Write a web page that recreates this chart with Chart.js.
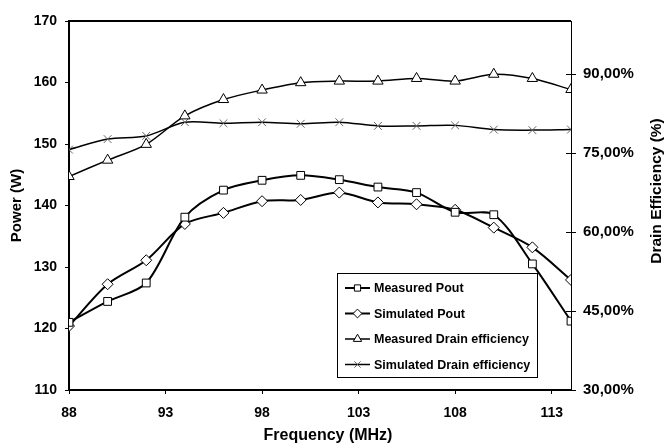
<!DOCTYPE html>
<html>
<head>
<meta charset="utf-8">
<script src="https://cdn.jsdelivr.net/npm/chart.js@4.4.0/dist/chart.umd.min.js"></script>
<style>
  html, body { margin: 0; padding: 0; background: #fff; }
</style>
</head>
<body>
<canvas id="powerChart" width="668" height="445"></canvas>
<script>
// Data
const freqs = [88, 90, 92, 94, 96, 98, 100, 102, 104, 106, 108, 110, 112, 114];
const measuredPout = [121.0, 124.4, 127.4, 138.1, 142.5, 144.1, 144.9, 144.2, 143.0, 142.1, 138.9, 138.5, 130.5, 121.2];
const simulatedPout = [120.4, 127.2, 131.1, 137.0, 138.8, 140.7, 140.9, 142.1, 140.5, 140.2, 139.3, 136.4, 133.2, 127.9];
const measuredEff = [70.5, 73.6, 76.6, 82.0, 85.1, 86.9, 88.3, 88.6, 88.6, 89.1, 88.6, 89.9, 89.1, 87.0];
const simulatedEff = [75.6, 77.6, 78.2, 80.8, 80.6, 80.8, 80.5, 80.8, 80.1, 80.1, 80.2, 79.4, 79.3, 79.4];
const freqTicks = [88, 93, 98, 103, 108, 113];
const powerTicks = [110, 120, 130, 140, 150, 160, 170];
const effTicks = [30, 45, 60, 75, 90];

const FONT = 'Arial, "Liberation Sans", sans-serif';

function pts(ys) {
  return freqs.map((f, i) => ({ x: f, y: ys[i] }));
}

// Frame top line, crossing ticks on the right axis, titles, legend box
const extras = {
  id: 'extras',
  afterDraw(chart) {
    const { ctx, chartArea: a } = chart;
    ctx.save();
    ctx.strokeStyle = '#000';
    ctx.lineWidth = 2;
    ctx.beginPath();
    ctx.moveTo(a.left - 1, a.top);
    ctx.lineTo(a.right, a.top);
    ctx.stroke();

    const y2 = chart.scales.y2;
    ctx.lineWidth = 1;
    effTicks.forEach(v => {
      const y = Math.round(y2.getPixelForValue(v)) + 0.5;
      ctx.beginPath();
      ctx.moveTo(a.right - 5, y);
      ctx.lineTo(a.right + 5, y);
      ctx.stroke();
    });

    ctx.fillStyle = '#000';
    ctx.textAlign = 'center';
    ctx.textBaseline = 'middle';

    // x axis title (sits a little right of centre in the original)
    ctx.font = 'bold 16px ' + FONT;
    ctx.fillText('Frequency (MHz)', 328, 436);

    // right axis title, reading bottom to top
    ctx.save();
    ctx.translate(657, 191);
    ctx.rotate(-Math.PI / 2);
    ctx.font = 'bold 15.5px ' + FONT;
    ctx.fillText('Drain Efficiency (%)', 0, 0);
    ctx.restore();

    // legend
    const lx = 337, ly = 273, lw = 200, lh = 104;
    ctx.fillStyle = '#fff';
    ctx.fillRect(lx, ly, lw, lh);
    ctx.lineWidth = 1;
    ctx.strokeRect(lx + 0.5, ly + 0.5, lw, lh);
    ctx.font = 'bold 12.5px ' + FONT;
    ctx.textAlign = 'left';
    chart.data.datasets.forEach((ds, i) => {
      const y = ly + 15 + i * 25.5;
      ctx.strokeStyle = ds.borderColor;
      ctx.lineWidth = ds.borderWidth;
      ctx.beginPath();
      ctx.moveTo(lx + 8, y);
      ctx.lineTo(lx + 33, y);
      ctx.stroke();
      ctx.fillStyle = ds.pointBackgroundColor;
      ctx.strokeStyle = ds.pointBorderColor;
      ctx.lineWidth = 1;
      Chart.helpers.drawPoint(ctx, {
        pointStyle: ds.pointStyle, radius: ds.pointRadius * 0.8, rotation: 0, borderWidth: 1
      }, lx + 20.5, y);
      ctx.fillStyle = '#000';
      ctx.fillText(ds.label, lx + 37, y + 1);
    });
    ctx.restore();
  }
};

const tickFont = { family: FONT, size: 14, weight: 'bold' };

new Chart(document.getElementById('powerChart'), {
  type: 'line',
  data: {
    datasets: [
      {
        label: 'Measured Pout', data: pts(measuredPout), yAxisID: 'y',
        borderColor: '#000', borderWidth: 2, pointStyle: 'rect', pointRadius: 5.5,
        pointBackgroundColor: '#fff', pointBorderColor: '#000', pointBorderWidth: 1
      },
      {
        label: 'Simulated Pout', data: pts(simulatedPout), yAxisID: 'y',
        borderColor: '#000', borderWidth: 2, pointStyle: 'rectRot', pointRadius: 5.5,
        pointBackgroundColor: '#fff', pointBorderColor: '#000', pointBorderWidth: 1
      },
      {
        label: 'Measured Drain efficiency', data: pts(measuredEff), yAxisID: 'y2',
        borderColor: '#000', borderWidth: 1.5, pointStyle: 'triangle', pointRadius: 6,
        pointBackgroundColor: '#fff', pointBorderColor: '#000', pointBorderWidth: 1
      },
      {
        label: 'Simulated Drain efficiency', data: pts(simulatedEff), yAxisID: 'y2',
        borderColor: '#000', borderWidth: 1.5, pointStyle: 'crossRot', pointRadius: 5.5,
        pointBackgroundColor: '#fff', pointBorderColor: '#666', pointBorderWidth: 1
      }
    ]
  },
  options: {
    responsive: false,
    animation: false,
    devicePixelRatio: 1,
    layout: { padding: { top: 15, left: 0, right: 0, bottom: 0 } },
    elements: { line: { tension: 0.3 } },
    plugins: { legend: { display: false }, tooltip: { enabled: false } },
    scales: {
      x: {
        type: 'linear', min: 88, max: 114,
        afterBuildTicks: s => { s.ticks = freqTicks.map(v => ({ value: v })); },
        afterFit: s => { s.height = 55; },
        grid: { drawOnChartArea: false, tickLength: 4, color: '#000' },
        border: { color: '#000', width: 2 },
        ticks: { color: '#000', font: tickFont, padding: 11, maxRotation: 0 }
      },
      y: {
        position: 'left', min: 110, max: 170,
        afterBuildTicks: s => { s.ticks = powerTicks.map(v => ({ value: v })); },
        afterFit: s => { s.width = 69; },
        grid: { drawOnChartArea: false, tickLength: 4, color: '#000' },
        border: { color: '#000', width: 2 },
        ticks: { color: '#000', font: tickFont, padding: 8 },
        title: { display: true, text: 'Power (W)', color: '#000',
          font: { family: FONT, size: 15, weight: 'bold' }, padding: { top: 8, bottom: 0 } }
      },
      y2: {
        position: 'right', min: 30, max: 100,
        afterBuildTicks: s => { s.ticks = effTicks.map(v => ({ value: v })); },
        afterFit: s => { s.width = 97; },
        grid: { drawOnChartArea: false, drawTicks: false },
        border: { color: '#000', width: 1 },
        ticks: { color: '#000', font: { family: FONT, size: 15, weight: 'bold' }, padding: 12,
          callback: v => v.toFixed(2).replace('.', ',') + '%' }
      }
    }
  },
  plugins: [extras]
});
</script>
</body>
</html>
